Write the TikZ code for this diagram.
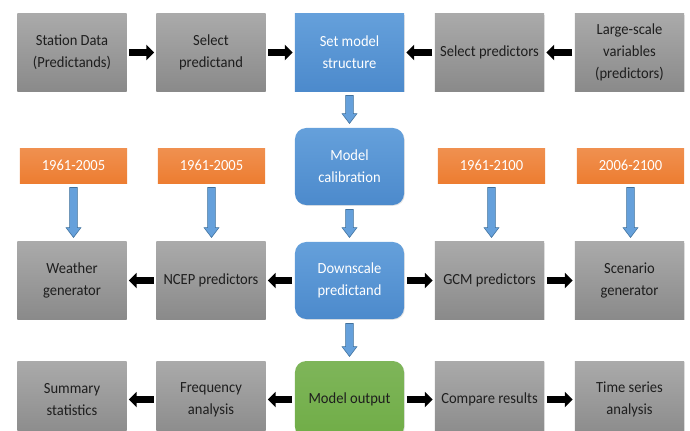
\documentclass[tikz,border=0pt]{standalone}
\usepackage{fontspec}
\setmainfont{Carlito}[FakeStretch=0.94]
\usetikzlibrary{arrows.meta,calc,shadows}
\definecolor{cgrayT}{RGB}{170,170,170}
\definecolor{cgrayB}{RGB}{138,138,138}
\definecolor{cblueT}{RGB}{101,160,219}
\definecolor{cblueB}{RGB}{76,138,204}
\definecolor{cblueD}{RGB}{65,113,156}
\definecolor{cora}{RGB}{237,125,49}
\definecolor{cgreen}{RGB}{112,173,71}
\definecolor{ctxt}{RGB}{30,30,30}

\begin{document}
\begin{tikzpicture}[
  x=0.025cm,y=-0.025cm,
  boxfont/.style={font=\fontsize{11pt}{15.5pt}\selectfont,align=center},
  gbox/.style={boxfont,text=ctxt,top color=cgrayT,bottom color=cgrayB,draw=none,
    minimum width=2.725cm,minimum height=1.925cm,inner sep=2pt,
    drop shadow={opacity=0.2,shadow xshift=0.6pt,shadow yshift=-0.6pt}},
  bbox/.style={gbox,text=white,top color=cblueT,bottom color=cblueB},
  rbbox/.style={bbox,rounded corners=8pt},
  gnbox/.style={gbox,text=ctxt,top color=cgreen!90!white,bottom color=cgreen,rounded corners=8pt},
  obox/.style={boxfont,text=white,top color=cora!85!white,bottom color=cora,
    minimum width=2.675cm,minimum height=0.875cm,inner sep=2pt},
  blk/.style={line width=5pt,-{Triangle[length=5.5pt,width=10.7pt]},shorten <=1.8pt,shorten >=1.5pt},
  barrow/.style={fill=cblueT,draw=cblueD,line width=0.4pt,
    to path={let \p1=(\tikztostart),\p2=(\tikztotarget) in
      (\x1-2.8pt,\y1-3pt) -- (\x1+2.8pt,\y1-3pt) -- (\x1+2.8pt,\y2+10pt)
      -- (\x1+5.3pt,\y2+10pt) -- (\x1,\y2+3pt) -- (\x1-5.3pt,\y2+10pt)
      -- (\x1-2.8pt,\y2+10pt) -- cycle}},
]
\useasboundingbox (0,0) rectangle (690,430);

% row 1: data and predictor selection
\node[gbox] (station) at (72,52.5) {Station Data\\(Predictands)};
\node[gbox] (selpred) at (211,52.5) {Select\\predictand};
\node[bbox] (struct) at (349.5,52.5) {Set model\\structure};
\node[gbox] (selpreds) at (489.5,52.5) {Select predictors};
\node[gbox] (large) at (629.5,52.5) {Large-scale\\variables\\(predictors)};

% row 2: periods and calibration
\node[obox] (perA) at (73.5,165.5) {1961-2005};
\node[obox] (perB) at (211.5,165.5) {1961-2005};
\node[rbbox] (calib) at (349.5,166.5) {Model\\calibration};
\node[obox] (perC) at (491.5,165.5) {1961-2100};
\node[obox] (perD) at (630.5,165.5) {2006-2100};

% row 3: downscaling
\node[gbox] (weather) at (72,280.5) {Weather\\generator};
\node[gbox] (ncep) at (211,280.5) {NCEP predictors};
\node[rbbox] (down) at (349.5,280.5) {Downscale\\predictand};
\node[gbox] (gcm) at (489.5,280.5) {GCM predictors};
\node[gbox] (scen) at (629.5,280.5) {Scenario\\generator};

% row 4: output and analysis
\node[gbox] (summ) at (72,399.5) {Summary\\statistics};
\node[gbox] (freq) at (211,399.5) {Frequency\\analysis};
\node[gnbox] (output) at (349.5,399.5) {Model output};
\node[gbox] (comp) at (489.5,399.5) {Compare results};
\node[gbox] (tseries) at (629.5,399.5) {Time series\\analysis};

% black flow arrows
\draw[blk] (station) -- (selpred);
\draw[blk] (selpred) -- (struct);
\draw[blk] (selpreds) -- (struct);
\draw[blk] (large) -- (selpreds);
\draw[blk] (down) -- (ncep);
\draw[blk] (ncep) -- (weather);
\draw[blk] (down) -- (gcm);
\draw[blk] (gcm) -- (scen);
\draw[blk] (output) -- (freq);
\draw[blk] (freq) -- (summ);
\draw[blk] (output) -- (comp);
\draw[blk] (comp) -- (tseries);

% blue block arrows
\draw[barrow] (struct.south) to (calib.north);
\draw[barrow] (calib.south) to (down.north);
\draw[barrow] (down.south) to (output.north);
\draw[barrow] (perA.south) to (weather.north);
\draw[barrow] (perB.south) to (ncep.north);
\draw[barrow] (perC.south) to (gcm.north);
\draw[barrow] (perD.south) to (scen.north);
\end{tikzpicture}
\end{document}
